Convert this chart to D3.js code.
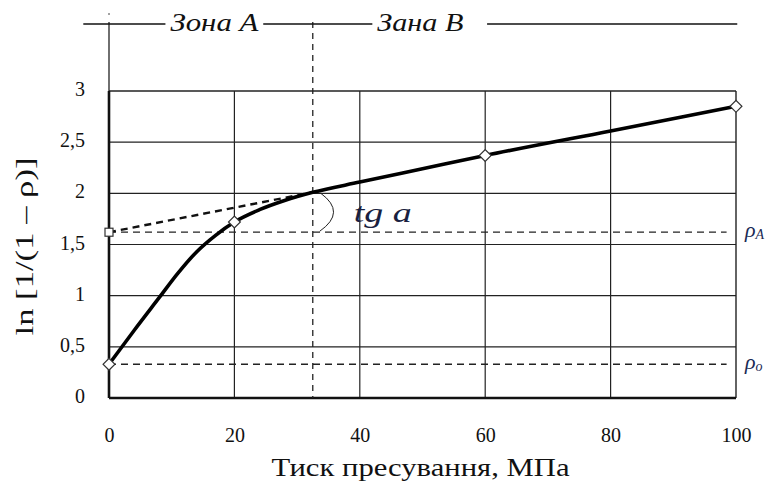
<!DOCTYPE html>
<html>
<head>
<meta charset="utf-8">
<script src="https://cdn.jsdelivr.net/npm/d3@7"></script>
<style>
  html, body { margin: 0; padding: 0; background: #fff; }
  svg { display: block; }
  svg text { font-family: "Liberation Serif", "DejaVu Serif", serif !important; }
</style>
</head>
<body>
<div id="chart"></div>
<script>
// Compaction curve: ln[1/(1-ρ)] versus pressing pressure
const xTicks = [0, 20, 40, 60, 80, 100];
const yTicks = [0, 0.5, 1, 1.5, 2, 2.5, 3];
const yTickLabels = ["0", "0,5", "1", "1,5", "2", "2,5", "3"];

// measured points (diamond markers)
const pressure = [0, 20, 60, 100];
const lnValues = [0.33, 1.72, 2.37, 2.85];

// smooth fitted curve through the measurements
const curveX = [0, 4, 8, 11, 14, 17, 20, 24, 28, 32.5, 40, 50, 60, 80, 100];
const curveY = [0.33, 0.66, 0.98, 1.22, 1.43, 1.59, 1.72, 1.84, 1.93, 2.01, 2.11, 2.24, 2.37, 2.61, 2.85];

// tangent of the linear zone B extrapolated to zero pressure
const tangentX = [0, 32.5];
const tangentY = [1.62, 2.01];

// reference densities
const rhoA = 1.62;
const rho0 = 0.33;
// boundary between the zones
const zoneBoundary = 32.5;

const FONT = "'Liberation Serif', 'DejaVu Serif', serif";
const W = 776, H = 491;
const margin = { top: 91, right: 40, bottom: 93, left: 109 };
const innerW = W - margin.left - margin.right;
const innerH = H - margin.top - margin.bottom;

const svg = d3.select("#chart").append("svg")
  .attr("width", W).attr("height", H)
  .attr("font-family", FONT);

const x = d3.scaleLinear().domain([0, 100]).range([margin.left, margin.left + innerW]);
const y = d3.scaleLinear().domain([0, 3]).range([margin.top + innerH, margin.top]);

// grid
const grid = svg.append("g").attr("stroke", "#222").attr("stroke-width", 1.2);
grid.selectAll("line.v").data(xTicks.slice(1, -1)).join("line")
  .attr("x1", d => x(d)).attr("x2", d => x(d))
  .attr("y1", y(0)).attr("y2", y(3));
grid.selectAll("line.h").data(yTicks.slice(1, -1)).join("line")
  .attr("x1", x(0)).attr("x2", x(100))
  .attr("y1", d => y(d)).attr("y2", d => y(d));

// frame: heavier left/bottom, lighter top/right
svg.append("line").attr("x1", x(0)).attr("x2", x(100)).attr("y1", y(3)).attr("y2", y(3))
  .attr("stroke", "#222").attr("stroke-width", 1.4);
svg.append("line").attr("x1", x(100)).attr("x2", x(100)).attr("y1", y(3)).attr("y2", y(0))
  .attr("stroke", "#222").attr("stroke-width", 1.4);
svg.append("line").attr("x1", x(0)).attr("x2", x(100)).attr("y1", y(0)).attr("y2", y(0))
  .attr("stroke", "#111").attr("stroke-width", 2.6);
svg.append("line").attr("x1", x(0)).attr("x2", x(0)).attr("y1", y(3)).attr("y2", y(0))
  .attr("stroke", "#111").attr("stroke-width", 2.6);

// tick labels
const xAxis = d3.axisBottom(x).tickValues(xTicks).tickSize(0).tickPadding(0);
const gx = svg.append("g").attr("transform", `translate(0,${y(0) + 39})`).call(xAxis)
  .attr("font-family", FONT);
gx.select(".domain").remove();
gx.selectAll("text").attr("font-size", 20).attr("dy", "0").attr("dominant-baseline", "middle")
  .attr("font-family", FONT).attr("fill", "#111");

const yAxis = d3.axisLeft(y).tickValues(yTicks).tickFormat((d, i) => yTickLabels[i]).tickSize(0).tickPadding(0);
const gy = svg.append("g").attr("transform", `translate(${x(0) - 24},0)`).call(yAxis)
  .attr("font-family", FONT);
gy.select(".domain").remove();
gy.selectAll("text").attr("font-size", 20).attr("dy", "0").attr("dominant-baseline", "middle")
  .attr("font-family", FONT).attr("fill", "#111");

// axis titles
svg.append("text").attr("x", x(50) - 2).attr("y", 470)
  .attr("text-anchor", "middle").attr("dominant-baseline", "middle")
  .attr("font-size", 26).attr("textLength", 298).attr("lengthAdjust", "spacingAndGlyphs")
  .attr("fill", "#111").text("Тиск пресування, МПа");
svg.append("text")
  .attr("transform", `translate(27,${y(1.5) + 2}) rotate(-90)`)
  .attr("text-anchor", "middle").attr("dominant-baseline", "middle")
  .attr("font-size", 26).attr("textLength", 178).attr("lengthAdjust", "spacingAndGlyphs")
  .attr("fill", "#111").text("ln [1/(1 – ρ)]");

// reference density lines
[rhoA, rho0].forEach(v => {
  svg.append("line").attr("x1", x(0)).attr("x2", x(98.5)).attr("y1", y(v)).attr("y2", y(v))
    .attr("stroke", "#222").attr("stroke-width", 1.3).attr("stroke-dasharray", "7,5");
});
svg.append("text").attr("x", x(100) + 9).attr("y", y(rhoA))
  .attr("font-size", 22).attr("font-style", "italic").attr("dominant-baseline", "middle")
  .attr("fill", "#1a2a55")
  .html('ρ<tspan font-size="14" dy="4">A</tspan>');
svg.append("text").attr("x", x(100) + 9).attr("y", y(rho0))
  .attr("font-size", 22).attr("font-style", "italic").attr("dominant-baseline", "middle")
  .attr("fill", "#1a2a55")
  .html('ρ<tspan font-size="14" dy="4">o</tspan>');

// zone boundary (dashed vertical) and zone header
svg.append("line").attr("x1", x(zoneBoundary)).attr("x2", x(zoneBoundary))
  .attr("y1", 22).attr("y2", y(0))
  .attr("stroke", "#222").attr("stroke-width", 1.3).attr("stroke-dasharray", "6,5");
svg.append("line").attr("x1", x(0)).attr("x2", x(0)).attr("y1", 22).attr("y2", y(3))
  .attr("stroke", "#222").attr("stroke-width", 1.3);
svg.append("line").attr("x1", x(0)).attr("x2", x(0)).attr("y1", 13).attr("y2", 15)
  .attr("stroke", "#444").attr("stroke-width", 1);

const headerY = 24;
const header = svg.append("g").attr("stroke", "#111").attr("stroke-width", 1.5);
header.append("line").attr("x1", x(-4.1)).attr("x2", x(9)).attr("y1", headerY).attr("y2", headerY);
header.append("line").attr("x1", x(24.6)).attr("x2", x(42)).attr("y1", headerY).attr("y2", headerY);
header.append("line").attr("x1", x(60.3)).attr("x2", x(100.2)).attr("y1", headerY).attr("y2", headerY);
svg.append("text").attr("x", x(9) + 5).attr("y", headerY + 1)
  .attr("dominant-baseline", "middle").attr("font-size", 26).attr("font-style", "italic")
  .attr("textLength", 88).attr("lengthAdjust", "spacingAndGlyphs")
  .attr("fill", "#111").text("Зона А");
svg.append("text").attr("x", x(42) + 5).attr("y", headerY + 1)
  .attr("dominant-baseline", "middle").attr("font-size", 26).attr("font-style", "italic")
  .attr("textLength", 86).attr("lengthAdjust", "spacingAndGlyphs")
  .attr("fill", "#111").text("Зана В");

// tangent line
svg.append("path")
  .attr("d", d3.line().x((d, i) => x(tangentX[i])).y(d => y(d))(tangentY))
  .attr("fill", "none").attr("stroke", "#111").attr("stroke-width", 2.4)
  .attr("stroke-dasharray", "7,5");

// angle arc and label
const arcPath = d3.path();
arcPath.moveTo(x(zoneBoundary) + 8, y(tangentY[1]) + 1);
arcPath.quadraticCurveTo(x(zoneBoundary) + 34, y((tangentY[1] + rhoA) / 2), x(zoneBoundary) + 7, y(rhoA) - 1);
svg.append("path").attr("d", arcPath.toString())
  .attr("fill", "none").attr("stroke", "#222").attr("stroke-width", 1);
svg.append("text").attr("x", x(zoneBoundary) + 41).attr("y", y((tangentY[1] + rhoA) / 2) + 3)
  .attr("font-size", 28).attr("font-style", "italic").attr("dominant-baseline", "middle")
  .attr("textLength", 58).attr("lengthAdjust", "spacingAndGlyphs")
  .attr("fill", "#1a1f40").text("tg a");

// main curve
svg.append("path")
  .attr("d", d3.line().x((d, i) => x(curveX[i])).y(d => y(d)).curve(d3.curveMonotoneX)(curveY))
  .attr("fill", "none").attr("stroke", "#000").attr("stroke-width", 3.6)
  .attr("stroke-linejoin", "round");

// markers
const diamond = d3.symbol().type(d3.symbolSquare).size(70);
svg.selectAll("path.pt").data(lnValues).join("path")
  .attr("class", "pt")
  .attr("d", diamond)
  .attr("transform", (d, i) => `translate(${x(pressure[i])},${y(d)}) rotate(45)`)
  .attr("fill", "#fff").attr("stroke", "#333").attr("stroke-width", 1.2);
svg.append("rect")
  .attr("x", x(0) - 4).attr("y", y(tangentY[0]) - 4).attr("width", 8).attr("height", 8)
  .attr("fill", "#fff").attr("stroke", "#333").attr("stroke-width", 1.2);
</script>
</body>
</html>
